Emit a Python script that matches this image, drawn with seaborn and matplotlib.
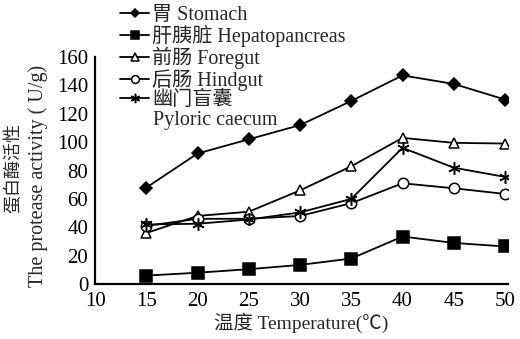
import matplotlib
matplotlib.use("Agg")
import matplotlib.pyplot as plt
import seaborn as sns
import pandas as pd

temperature = [15, 20, 25, 30, 35, 40, 45, 50]
stomach = [68, 92, 102, 112, 129, 147, 141, 130]
hepatopancreas = [6, 8, 10.5, 13.5, 18, 33.5, 29, 26.5]
foregut = [36, 48, 51, 66, 83, 103, 99.5, 99]
hindgut = [41, 46, 46, 48, 57, 71, 67.5, 63.5]
pyloric = [42, 42.5, 45.5, 50.5, 60, 96, 82, 75.5]
series_labels = ["胃 Stomach", "肝胰脏 Hepatopancreas", "前肠 Foregut",
                 "后肠 Hindgut", "幽门盲囊"]
pyloric_en = "Pyloric caecum"
x_ticks = [10, 15, 20, 25, 30, 35, 40, 45, 50]
y_ticks = [0, 20, 40, 60, 80, 100, 120, 140, 160]

sns.set_style("white")
fam = ["Liberation Serif", "Noto Sans CJK SC", "DejaVu Sans"]
plt.rcParams["font.family"] = fam
plt.rcParams["axes.unicode_minus"] = False

rows = []
for lab, vals in zip(series_labels, [stomach, hepatopancreas, foregut, hindgut, pyloric]):
    for t, v in zip(temperature, vals):
        rows.append({"T": t, "v": v, "s": lab})
df = pd.DataFrame(rows)

fig = plt.figure(figsize=(5.2, 3.39), dpi=100)
ax = fig.add_axes([0.183, 0.162, 0.794, 0.670])

styles = {
    series_labels[0]: dict(marker="D", mfc="black", ms=6),
    series_labels[1]: dict(marker="s", mfc="black", ms=8),
    series_labels[2]: dict(marker="^", mfc="white", ms=7),
    series_labels[3]: dict(marker="o", mfc="white", ms=7.5),
    series_labels[4]: dict(marker=(6, 2, 0), mfc="black", ms=9),
}
for lab in series_labels:
    st = styles[lab]
    sns.lineplot(data=df[df.s == lab], x="T", y="v", ax=ax, color="black",
                 lw=1.3, marker=st["marker"], markersize=st["ms"],
                 markerfacecolor=st["mfc"], markeredgecolor="black",
                 markeredgewidth=1.1, label=lab)

ax.set_xlim(10, 50.3)
ax.set_ylim(0, 160)
ax.set_xticks(x_ticks)
ax.set_yticks(y_ticks)
ax.tick_params(direction="in", length=3, width=1, labelsize=15, colors="black")
ax.tick_params(axis="y", pad=5)
ax.tick_params(axis="x", pad=6)
for lbl in ax.get_xticklabels() + ax.get_yticklabels():
    lbl.set_family(fam)
for s in ["top", "right"]:
    ax.spines[s].set_visible(False)
for s in ["left", "bottom"]:
    ax.spines[s].set_color("black")
    ax.spines[s].set_linewidth(1.6)

ax.set_ylabel("")
ax.set_xlabel("温度 Temperature(℃)", fontsize=14, family=fam, labelpad=1)
fig.text(14 / 520, 1 - 168 / 339, "蛋白酶活性", rotation=90, ha="center", va="center",
         fontsize=13, family=fam)
fig.text(38 / 520, 1 - 176 / 339, "The protease activity ( U/g)", rotation=90,
         ha="center", va="center", fontsize=14.5, family=fam)

leg = ax.legend(loc="upper left", bbox_to_anchor=(120 / 520, 1 - 6 / 339),
                bbox_transform=fig.transFigure, frameon=False, fontsize=14.5,
                handlelength=1.45, handletextpad=0.15, labelspacing=0.0,
                borderaxespad=0, borderpad=0, markerscale=0.75)
for t in leg.get_texts():
    t.set_family(fam)
fig.text(153 / 520, 1 - 121 / 339, pyloric_en, ha="left", va="center",
         fontsize=14.5, family=fam)

fig.savefig("out.png", dpi=100)
